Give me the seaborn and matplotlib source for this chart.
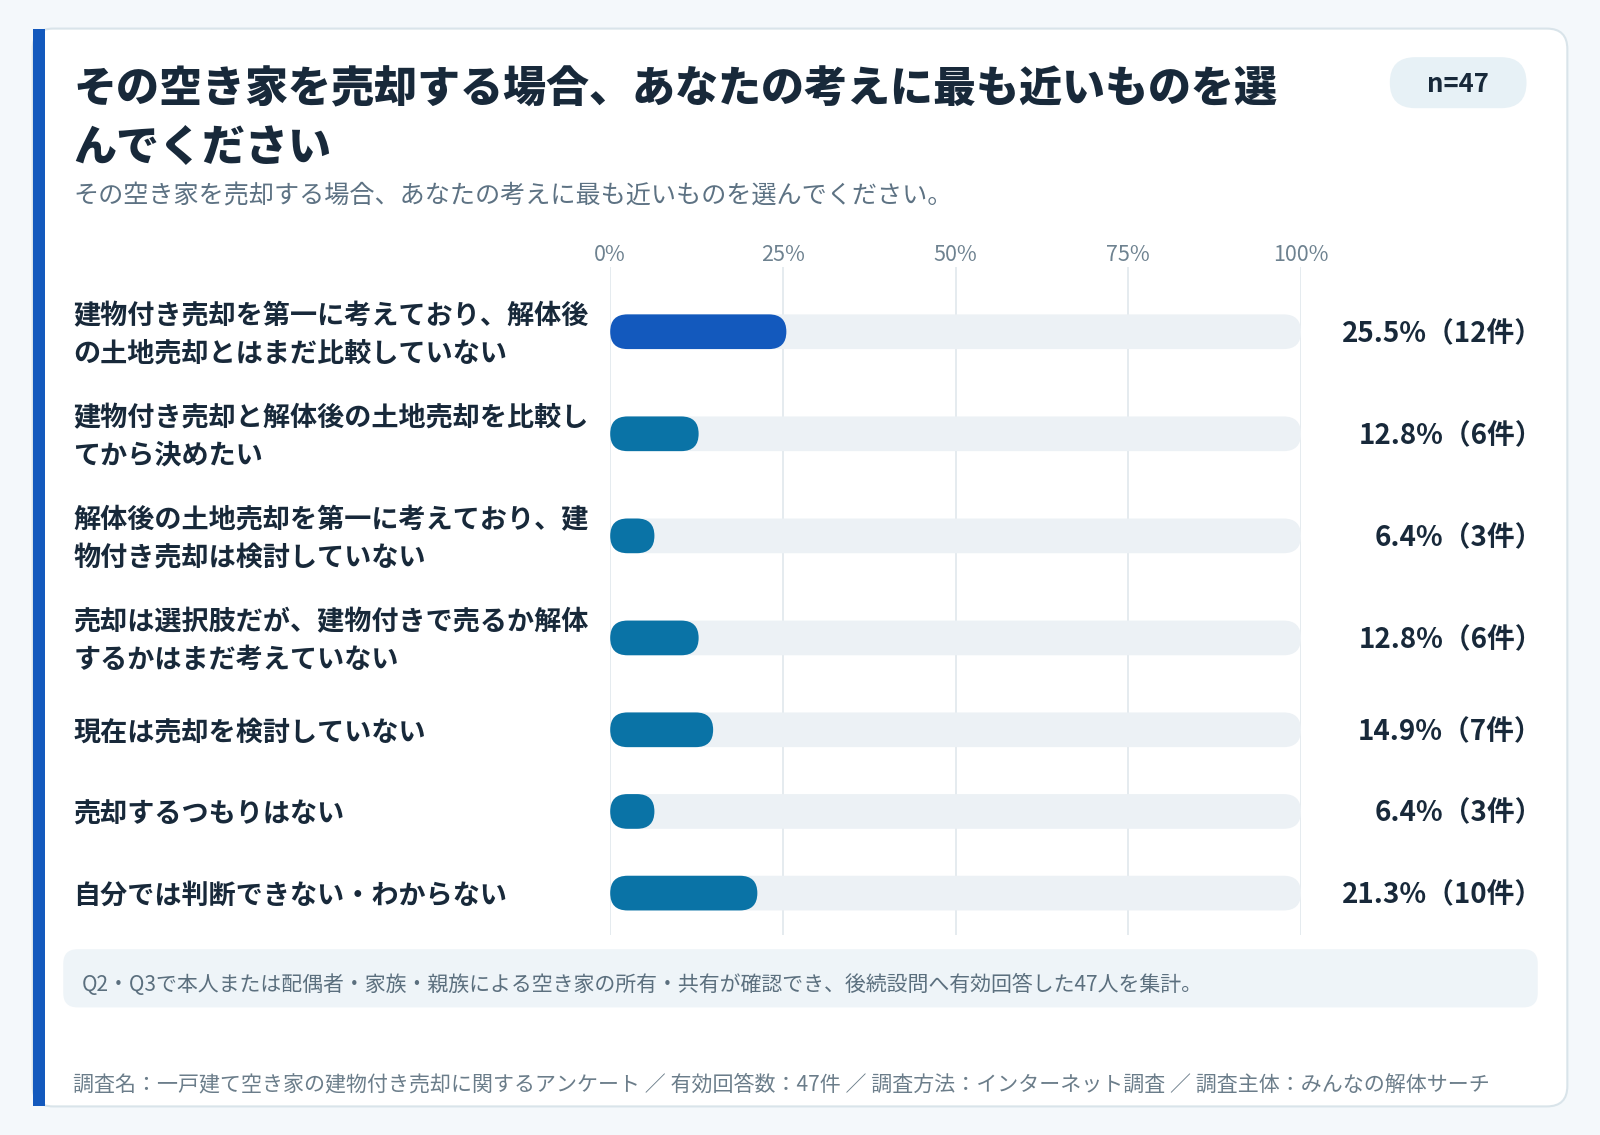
import numpy as np
import pandas as pd
import matplotlib
matplotlib.use("Agg")
import matplotlib.pyplot as plt
import matplotlib.transforms as mtransforms
from matplotlib.patches import FancyBboxPatch, Rectangle
import seaborn as sns

# --- data -------------------------------------------------------------
labels = [
    "建物付き売却を第一に考えており、解体後\nの土地売却とはまだ比較していない",
    "建物付き売却と解体後の土地売却を比較し\nてから決めたい",
    "解体後の土地売却を第一に考えており、建\n物付き売却は検討していない",
    "売却は選択肢だが、建物付きで売るか解体\nするかはまだ考えていない",
    "現在は売却を検討していない",
    "売却するつもりはない",
    "自分では判断できない・わからない",
]
pct = [25.5, 12.8, 6.4, 12.8, 14.9, 6.4, 21.3]
counts = [12, 6, 3, 6, 7, 3, 10]
ticks = [0, 25, 50, 75, 100]
tick_labels = ["0%", "25%", "50%", "75%", "100%"]

title_lines = ["その空き家を売却する場合、あなたの考えに最も近いものを選", "んでください"]
subtitle = "その空き家を売却する場合、あなたの考えに最も近いものを選んでください。"
n_label = "n=47"
note = "Q2・Q3で本人または配偶者・家族・親族による空き家の所有・共有が確認でき、後続設問へ有効回答した47人を集計。"
footer = "調査名：一戸建て空き家の建物付き売却に関するアンケート ／ 有効回答数：47件 ／ 調査方法：インターネット調査 ／ 調査主体：みんなの解体サーチ"

# --- style -------------------------------------------------------------
sns.set_theme(style="white")
plt.rcParams["font.family"] = ["Noto Sans CJK JP", "DejaVu Sans"]

BG = "#f4f8fb"
DARK = "#18293a"
GREY = "#5d7283"
TRACK = "#ecf1f5"
TOP = "#1359bd"
OTHER = "#0a73a6"

W, H = 1568, 1112  # layout grid (reference pixels)
fig = plt.figure(figsize=(16, 11.35), dpi=100, facecolor=BG)

# background canvas in reference pixels
bg = fig.add_axes([0, 0, 1, 1])
bg.set_xlim(0, W)
bg.set_ylim(H, 0)
bg.axis("off")
bg.set_facecolor(BG)

# card
bg.add_patch(FancyBboxPatch((32, 28), 1504, 1056, boxstyle="round,pad=0,rounding_size=20",
                            fc="white", ec="#d9e4ea", lw=1.5, zorder=1))
bg.add_patch(Rectangle((32, 28), 12, 1056, fc=TOP, ec="none", zorder=2))

# title / subtitle
bg.text(72, 88, title_lines[0], fontsize=31, fontweight=900, color=DARK, va="center", ha="left", zorder=3)
bg.text(72, 144, title_lines[1], fontsize=31, fontweight=900, color=DARK, va="center", ha="left", zorder=3)
bg.text(72, 193, subtitle, fontsize=18.1, color=GREY, va="center", ha="left", zorder=3)

# n pill
bg.add_patch(FancyBboxPatch((1362, 56), 134, 50, boxstyle="round,pad=0,rounding_size=25",
                            fc="#e7f1f6", ec="none", zorder=2))
bg.text(1429, 83, n_label, fontsize=18.5, fontweight="bold", color=DARK, ha="center", va="center", zorder=3)

# note box + footer
bg.add_patch(FancyBboxPatch((62, 930), 1445, 57, boxstyle="round,pad=0,rounding_size=14",
                            fc="#eef4f8", ec="none", zorder=2))
bg.text(80, 965, note, fontsize=15.05, color="#5b6f7e", ha="left", va="center", zorder=3)
bg.text(72, 1062, footer, fontsize=15.1, color="#6b7d8a", ha="left", va="center", zorder=3)

# --- bar chart ------------------------------------------------------------
# row heights follow the number of label lines
n_lines = np.array([lab.count("\n") + 1 for lab in labels])
row_h = np.where(n_lines > 1, 100, 80)
ax_top, ax_bot = 262, 916
ypos = ax_top + 13 + np.cumsum(row_h) - row_h / 2

df = pd.DataFrame({"label": labels, "pct": pct, "ypos": ypos, "full": 100.0})
palette = {lab: (TOP if p == max(pct) else OTHER) for lab, p in zip(labels, pct)}

x0, x1 = 598, 1275
ax = fig.add_axes([x0 / W, 1 - ax_bot / H, (x1 - x0) / W, (ax_bot - ax_top) / H])
ax.set_facecolor("none")
bar_w = 34 / np.min(np.diff(ypos))

sns.barplot(data=df, x="full", y="ypos", orient="y", native_scale=True, color=TRACK,
            saturation=1, width=bar_w, errorbar=None, ax=ax, zorder=2)
sns.barplot(data=df, x="pct", y="ypos", orient="y", native_scale=True, hue="label",
            palette=palette, saturation=1, dodge=False, legend=False, width=bar_w,
            errorbar=None, ax=ax, zorder=3)

ax.set_xlim(0, 100)
ax.set_ylim(ax_bot, ax_top)
for s in ax.spines.values():
    s.set_visible(False)
ax.set_xlabel("")
ax.set_ylabel("")
ax.set_yticks([])
ax.xaxis.tick_top()
ax.set_xticks(ticks, tick_labels)
ax.tick_params(axis="x", length=0, pad=1, labelsize=15.5, labelcolor="#6e8290")
ax.grid(axis="x", color="#e3e9ee", lw=1.3, zorder=0)
ax.set_axisbelow(True)

# rounded (capsule) bars
p0 = ax.transData.transform((0, 0))
p1 = ax.transData.transform((1, 1))
aspect = abs(p1[0] - p0[0]) / abs(p1[1] - p0[1])
for rect in list(ax.patches):
    x, y, w, h = rect.get_x(), rect.get_y(), rect.get_width(), rect.get_height()
    if w <= 0:
        rect.remove()
        continue
    r = abs(h) / (2 * aspect)
    fb = FancyBboxPatch((x, min(y, y + h)), w, abs(h), boxstyle=f"round,pad=0,rounding_size={r}",
                        mutation_aspect=aspect, fc=rect.get_facecolor(), ec="none", zorder=rect.get_zorder())
    rect.remove()
    ax.add_patch(fb)

# category labels and values (y offset of 3 px to sit on the bar centre)
trans = mtransforms.blended_transform_factory(fig.transFigure, ax.transData)
for lab, y, p, c in zip(labels, ypos, pct, counts):
    ax.text(72 / W, y + 3, lab, transform=trans, ha="left", va="center", fontsize=19.5,
            fontweight="bold", color=DARK, linespacing=1.45, clip_on=False)
    ax.text(1512 / W, y + 2, f"{p:.1f}%（{c}件）", transform=trans, ha="right", va="center",
            fontsize=20, fontweight="bold", color=DARK, clip_on=False)

fig.savefig("out.png", dpi=100, facecolor=BG)
